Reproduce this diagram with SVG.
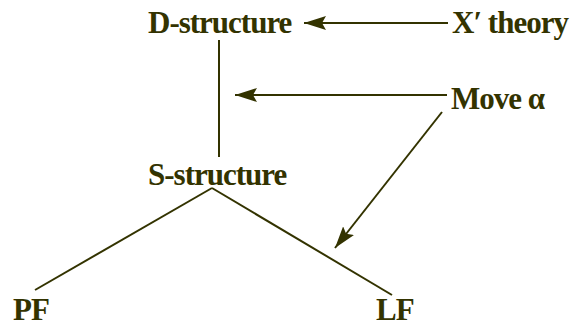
<svg xmlns="http://www.w3.org/2000/svg" width="578" height="328" viewBox="0 0 578 328">
<style>
text{font-family:"Liberation Serif","Times New Roman",serif;font-weight:bold;font-size:31px;fill:#333300;letter-spacing:-1px}
.l{stroke:#333300;stroke-width:2;fill:none}
</style>
<defs>
<marker id="a" viewBox="0 0 22 14" refX="22" refY="7" markerWidth="22" markerHeight="14" markerUnits="userSpaceOnUse" orient="auto">
<path d="M0,0 L22,7 L0,14 L4,7 z" fill="#333300"/>
</marker>
</defs>
<rect width="578" height="328" fill="#ffffff"/>
<g id="connectors">
<line class="l" x1="219" y1="40" x2="219" y2="157"/>
<line class="l" x1="212" y1="188" x2="35" y2="290"/>
<line class="l" x1="212" y1="188" x2="392" y2="295"/>
<line class="l" x1="448" y1="23" x2="304" y2="23" marker-end="url(#a)"/>
<line class="l" x1="447" y1="95" x2="235" y2="95" marker-end="url(#a)"/>
<line class="l" x1="442" y1="112" x2="335" y2="248" marker-end="url(#a)"/>
</g>
<g id="d-structure"><text x="148" y="33">D-structure</text></g>
<g id="xbar"><text x="452" y="33">X′ theory</text></g>
<g id="move"><text x="451" y="109">Move α</text></g>
<g id="s-structure"><text x="148" y="185">S-structure</text></g>
<g id="pf"><text x="13" y="320">PF</text></g>
<g id="lf"><text x="376" y="320">LF</text></g>
</svg>
